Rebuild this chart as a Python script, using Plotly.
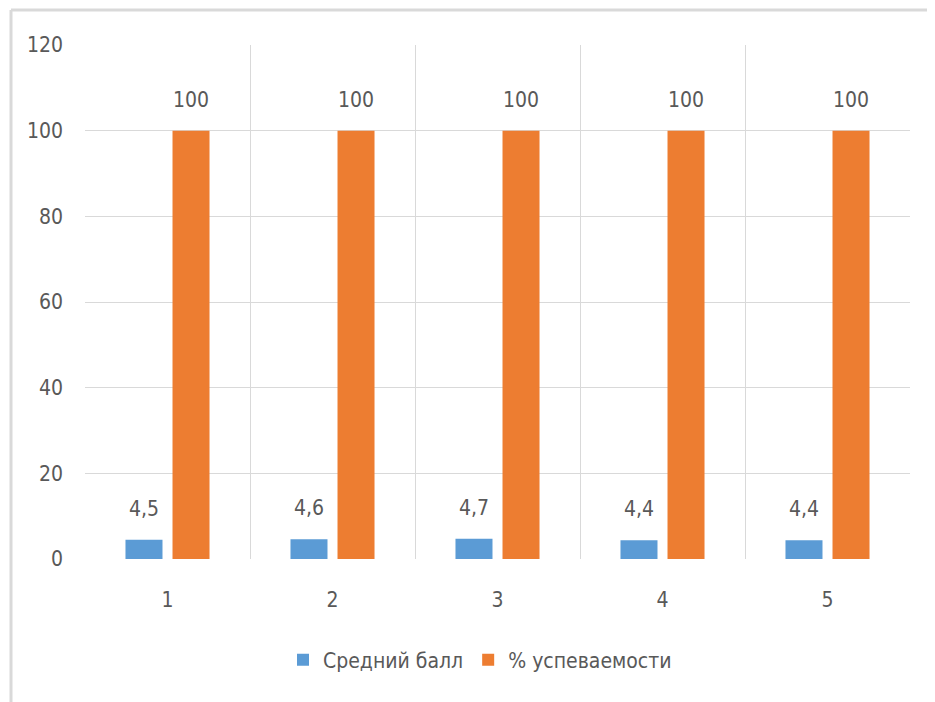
import plotly.graph_objects as go

categories = [1, 2, 3, 4, 5]
avg_score = [4.5, 4.6, 4.7, 4.4, 4.4]
pass_rate = [100, 100, 100, 100, 100]
series_names = ["Средний балл", "% успеваемости"]
y_ticks = [0, 20, 40, 60, 80, 100, 120]

FONT = "DejaVu Sans Condensed, Liberation Sans Narrow, sans-serif"
FS = 21
GRAY = "#595959"
GRID = "#d9d9d9"
BLUE = "#5B9BD5"
ORANGE = "#ED7D31"

OFF = 8  # page body offset
W, H = 935 - OFF, 702 - OFF
L, T = 85 - OFF, 45 - OFF
plot_w = 910 - 85
plot_h = 559 - 45
R = W - L - plot_w
B = H - T - plot_h
cat_px = plot_w / len(categories)
bargap = 0.43
slot_px = cat_px * (1 - bargap) / 2


def px_x(p):
    return (p - OFF - L) / plot_w


def px_y(p):
    return (T + plot_h - (p - OFF)) / plot_h


fig = go.Figure()
fig.add_trace(go.Bar(x=categories, y=avg_score, name=series_names[0],
                     marker=dict(color=BLUE, line=dict(width=0))))
fig.add_trace(go.Bar(x=categories, y=pass_rate, name=series_names[1],
                     marker=dict(color=ORANGE, line=dict(width=0))))


def fmt(v):
    return ("%g" % v).replace(".", ",")


annotations = []
for vals, sgn in [(avg_score, -1), (pass_rate, 1)]:
    for c, v in zip(categories, vals):
        annotations.append(dict(x=c, y=v, xref="x", yref="y", text=fmt(v),
                                showarrow=False, xshift=sgn * slot_px / 2,
                                yshift=31, yanchor="middle",
                                font=dict(family=FONT, size=FS, color=GRAY)))

shapes = [
    dict(type="line", xref="paper", yref="paper",
         x0=px_x(11), x1=px_x(950), y0=px_y(10), y1=px_y(10),
         line=dict(color=GRID, width=3)),
    dict(type="line", xref="paper", yref="paper",
         x0=px_x(11), x1=px_x(11), y0=px_y(10), y1=px_y(720),
         line=dict(color=GRID, width=3)),
]

fig.update_layout(
    width=W, height=H,
    margin=dict(l=L, r=R, t=T, b=B, pad=0),
    paper_bgcolor="white", plot_bgcolor="white",
    barmode="group", bargap=bargap, bargroupgap=0.213,
    font=dict(family=FONT, size=FS, color=GRAY),
    xaxis=dict(range=[0.5, 5.5], tickvals=categories, ticktext=[str(c) for c in categories],
               showgrid=False, zeroline=False, showline=False, ticks="",
               ticklabelstandoff=26,
               minor=dict(tickvals=[c - 0.5 for c in categories] + [categories[-1] + 0.5],
                          showgrid=True, gridcolor=GRID, gridwidth=1, ticks=""),
               tickfont=dict(family=FONT, size=FS, color=GRAY), fixedrange=True),
    yaxis=dict(range=[0, 120], tickvals=y_ticks, showgrid=True, gridcolor=GRID, gridwidth=1,
               zeroline=False, showline=False, ticks="", ticklabelstandoff=21,
               tickfont=dict(family=FONT, size=FS, color=GRAY), fixedrange=True),
    showlegend=True,
    legend=dict(orientation="h", x=px_x(480), xanchor="center",
                y=px_y(660), yanchor="middle",
                font=dict(family=FONT, size=FS, color=GRAY), traceorder="normal",
                itemwidth=30),
    annotations=annotations,
    shapes=shapes,
)

fig.write_html("out.html")
